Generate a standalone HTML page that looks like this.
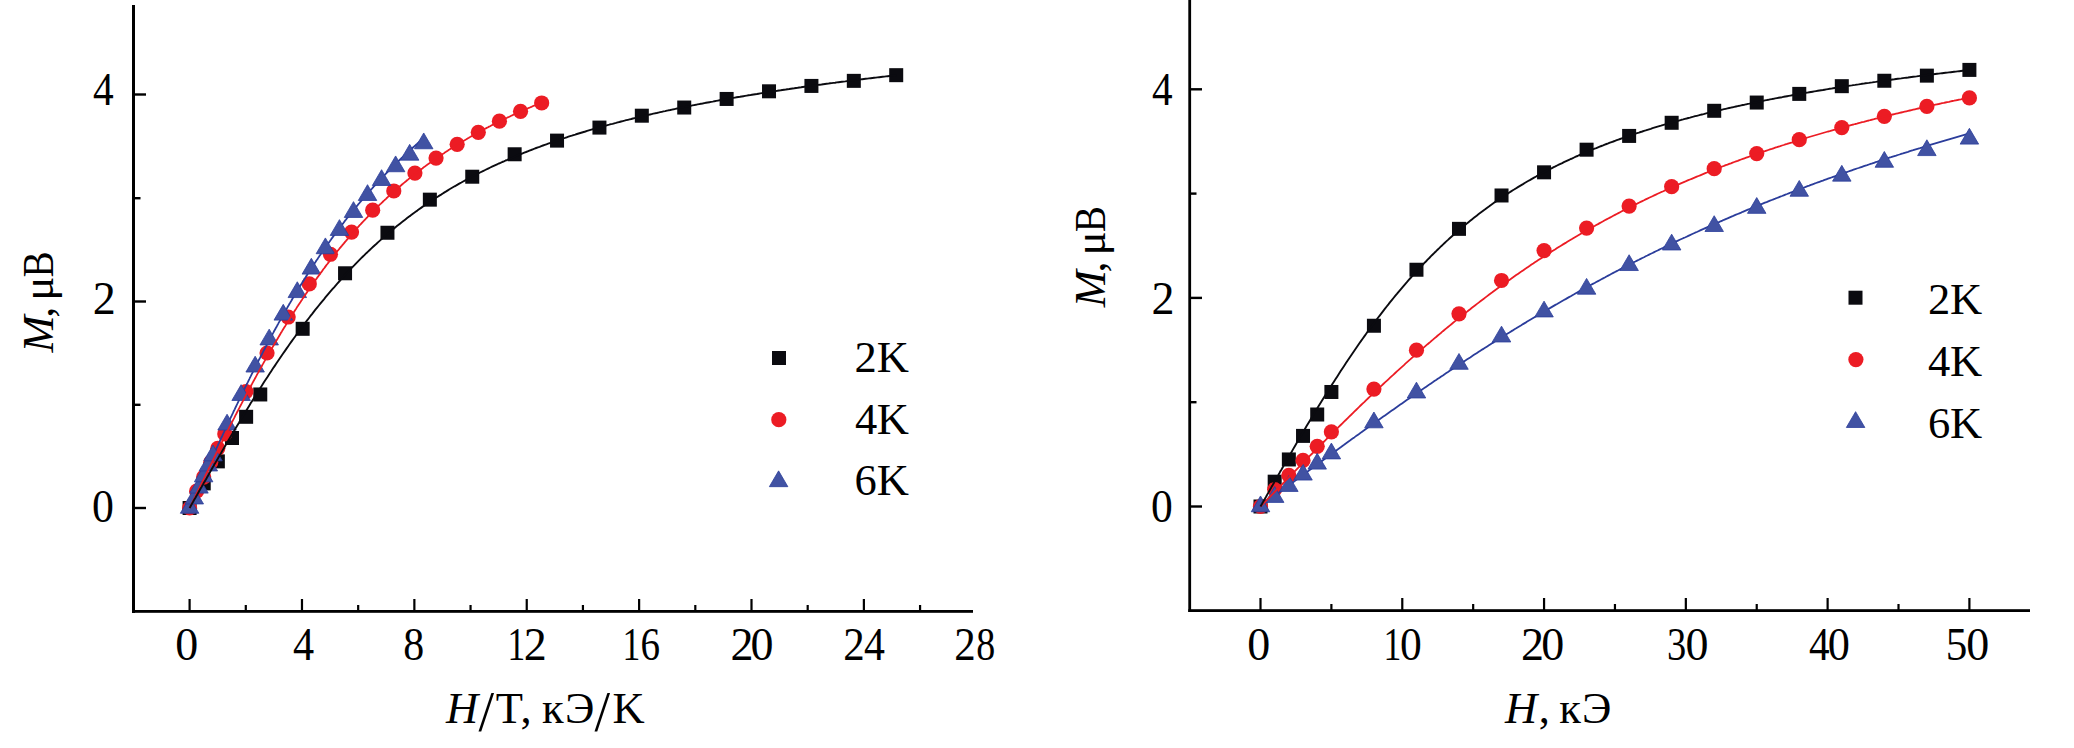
<!DOCTYPE html>
<html><head><meta charset="utf-8"><title>M vs H</title>
<style>html,body{margin:0;padding:0;background:#fff;}svg{display:block;}</style></head>
<body><svg width="2074" height="748" viewBox="0 0 2074 748">
<rect width="2074" height="748" fill="#fff"/>
<rect x="132" y="5" width="3" height="608" fill="#000"/>
<rect x="132" y="610" width="841" height="2.8" fill="#000"/>
<rect x="188.50" y="599" width="2.2" height="12" fill="#000"/>
<rect x="244.69" y="605" width="2.2" height="6" fill="#000"/>
<rect x="300.88" y="599" width="2.2" height="12" fill="#000"/>
<rect x="357.07" y="605" width="2.2" height="6" fill="#000"/>
<rect x="413.26" y="599" width="2.2" height="12" fill="#000"/>
<rect x="469.45" y="605" width="2.2" height="6" fill="#000"/>
<rect x="525.64" y="599" width="2.2" height="12" fill="#000"/>
<rect x="581.83" y="605" width="2.2" height="6" fill="#000"/>
<rect x="638.02" y="599" width="2.2" height="12" fill="#000"/>
<rect x="694.21" y="605" width="2.2" height="6" fill="#000"/>
<rect x="750.40" y="599" width="2.2" height="12" fill="#000"/>
<rect x="806.59" y="605" width="2.2" height="6" fill="#000"/>
<rect x="862.78" y="599" width="2.2" height="12" fill="#000"/>
<rect x="918.97" y="605" width="2.2" height="6" fill="#000"/>
<rect x="134" y="93.30" width="12" height="2.4" fill="#000"/>
<rect x="134" y="197.00" width="6.5" height="2.4" fill="#000"/>
<rect x="134" y="300.30" width="12" height="2.4" fill="#000"/>
<rect x="134" y="403.60" width="6.5" height="2.4" fill="#000"/>
<rect x="134" y="506.80" width="12" height="2.4" fill="#000"/>
<rect x="1188.3" y="0" width="2.8" height="612" fill="#000"/>
<rect x="1188.3" y="609.2" width="841.7" height="2.8" fill="#000"/>
<rect x="1259.40" y="598" width="2.2" height="12" fill="#000"/>
<rect x="1330.29" y="604" width="2.2" height="6" fill="#000"/>
<rect x="1401.18" y="598" width="2.2" height="12" fill="#000"/>
<rect x="1472.07" y="604" width="2.2" height="6" fill="#000"/>
<rect x="1542.96" y="598" width="2.2" height="12" fill="#000"/>
<rect x="1613.85" y="604" width="2.2" height="6" fill="#000"/>
<rect x="1684.74" y="598" width="2.2" height="12" fill="#000"/>
<rect x="1755.63" y="604" width="2.2" height="6" fill="#000"/>
<rect x="1826.52" y="598" width="2.2" height="12" fill="#000"/>
<rect x="1897.41" y="604" width="2.2" height="6" fill="#000"/>
<rect x="1968.30" y="598" width="2.2" height="12" fill="#000"/>
<rect x="1190" y="88.10" width="12" height="2.4" fill="#000"/>
<rect x="1190" y="192.40" width="6.5" height="2.4" fill="#000"/>
<rect x="1190" y="296.70" width="12" height="2.4" fill="#000"/>
<rect x="1190" y="401.00" width="6.5" height="2.4" fill="#000"/>
<rect x="1190" y="505.30" width="12" height="2.4" fill="#000"/>
<rect x="182.60" y="501.00" width="14.0" height="14.0" fill="#0b0b10"/>
<rect x="196.73" y="476.39" width="14.0" height="14.0" fill="#0b0b10"/>
<rect x="210.86" y="454.37" width="14.0" height="14.0" fill="#0b0b10"/>
<rect x="225.00" y="431.00" width="14.0" height="14.0" fill="#0b0b10"/>
<rect x="239.13" y="409.80" width="14.0" height="14.0" fill="#0b0b10"/>
<rect x="253.26" y="387.47" width="14.0" height="14.0" fill="#0b0b10"/>
<rect x="295.66" y="321.81" width="14.0" height="14.0" fill="#0b0b10"/>
<rect x="338.06" y="266.28" width="14.0" height="14.0" fill="#0b0b10"/>
<rect x="380.45" y="225.75" width="14.0" height="14.0" fill="#0b0b10"/>
<rect x="422.85" y="192.66" width="14.0" height="14.0" fill="#0b0b10"/>
<rect x="465.25" y="169.71" width="14.0" height="14.0" fill="#0b0b10"/>
<rect x="507.64" y="147.27" width="14.0" height="14.0" fill="#0b0b10"/>
<rect x="550.04" y="133.62" width="14.0" height="14.0" fill="#0b0b10"/>
<rect x="592.44" y="120.59" width="14.0" height="14.0" fill="#0b0b10"/>
<rect x="634.83" y="108.70" width="14.0" height="14.0" fill="#0b0b10"/>
<rect x="677.23" y="100.53" width="14.0" height="14.0" fill="#0b0b10"/>
<rect x="719.63" y="91.95" width="14.0" height="14.0" fill="#0b0b10"/>
<rect x="762.02" y="84.30" width="14.0" height="14.0" fill="#0b0b10"/>
<rect x="804.42" y="78.92" width="14.0" height="14.0" fill="#0b0b10"/>
<rect x="846.82" y="73.85" width="14.0" height="14.0" fill="#0b0b10"/>
<rect x="889.21" y="68.17" width="14.0" height="14.0" fill="#0b0b10"/>
<circle cx="189.60" cy="508.00" r="7.6" fill="#ec1c24"/>
<circle cx="196.64" cy="491.15" r="7.6" fill="#ec1c24"/>
<circle cx="203.68" cy="477.08" r="7.6" fill="#ec1c24"/>
<circle cx="210.72" cy="462.30" r="7.6" fill="#ec1c24"/>
<circle cx="217.77" cy="448.34" r="7.6" fill="#ec1c24"/>
<circle cx="224.81" cy="433.97" r="7.6" fill="#ec1c24"/>
<circle cx="245.93" cy="391.57" r="7.6" fill="#ec1c24"/>
<circle cx="267.05" cy="353.00" r="7.6" fill="#ec1c24"/>
<circle cx="288.18" cy="317.02" r="7.6" fill="#ec1c24"/>
<circle cx="309.30" cy="283.93" r="7.6" fill="#ec1c24"/>
<circle cx="330.43" cy="254.26" r="7.6" fill="#ec1c24"/>
<circle cx="351.55" cy="232.03" r="7.6" fill="#ec1c24"/>
<circle cx="372.68" cy="210.21" r="7.6" fill="#ec1c24"/>
<circle cx="393.80" cy="190.98" r="7.6" fill="#ec1c24"/>
<circle cx="414.92" cy="173.09" r="7.6" fill="#ec1c24"/>
<circle cx="436.05" cy="158.09" r="7.6" fill="#ec1c24"/>
<circle cx="457.17" cy="144.34" r="7.6" fill="#ec1c24"/>
<circle cx="478.30" cy="132.35" r="7.6" fill="#ec1c24"/>
<circle cx="499.42" cy="121.18" r="7.6" fill="#ec1c24"/>
<circle cx="520.54" cy="111.36" r="7.6" fill="#ec1c24"/>
<circle cx="541.67" cy="102.98" r="7.6" fill="#ec1c24"/>
<polyline points="189.6,508.0 189.8,507.5 190.1,507.0 190.3,506.4 190.5,505.9 190.8,505.4 191.0,504.9 191.2,504.3 191.5,503.8 191.7,503.3 191.9,502.8 192.2,502.2 192.4,501.7 192.6,501.2 192.9,500.7 193.1,500.2 193.3,499.6 193.6,499.1 193.8,498.6 194.0,498.1 194.3,497.5 194.5,497.0 194.8,496.5 195.0,496.0 195.2,495.5 195.5,494.9 195.7,494.4 195.9,493.9 196.2,493.4 196.4,492.8 196.6,492.3 196.9,491.8 197.1,491.3 197.3,490.8 197.6,490.2 197.8,489.7 198.0,489.2 198.3,488.7 198.5,488.1 198.7,487.6 199.0,487.1 199.2,486.6 199.8,485.3 200.3,484.1 200.9,482.8 201.5,481.6 202.0,480.3 202.6,479.1 203.1,477.8 203.7,476.6 204.3,475.3 204.8,474.1 205.4,472.8 206.0,471.6 206.5,470.3 207.1,469.1 207.6,467.8 208.2,466.6 208.8,465.3 209.3,464.1 209.9,462.9 210.5,461.6 211.0,460.4 211.6,459.1 212.1,457.9 212.7,456.7 213.3,455.4 213.8,454.2 214.4,453.0 215.0,451.7 215.5,450.5 216.1,449.3 216.6,448.0 217.2,446.8 217.8,445.6 218.3,444.3 218.9,443.1 219.5,441.9 220.0,440.7 220.6,439.4 221.1,438.2 221.7,437.0 222.3,435.8 222.8,434.6 223.4,433.4 224.0,432.1 224.5,430.9 225.1,429.7 225.6,428.5 226.2,427.3 226.8,426.1 227.3,424.9 227.9,423.7 228.5,422.5 229.0,421.3 229.6,420.1 230.1,418.9 230.7,417.7 231.3,416.5 231.8,415.3 232.4,414.1 233.0,412.9 233.5,411.7 234.1,410.5 234.7,409.3 235.2,408.2 235.8,407.0 236.3,405.8 236.9,404.6 237.5,403.4 238.0,402.3 238.6,401.1 239.2,399.9 239.7,398.7 240.3,397.6 240.8,396.4 241.4,395.2 242.0,394.1 242.5,392.9 243.1,391.8 243.7,390.6 244.2,389.4 244.8,388.3 245.3,387.1 245.9,386.0 246.5,384.8 247.0,383.7 247.6,382.6 248.2,381.4 248.7,380.3 249.3,379.1 249.8,378.0 250.4,376.9 251.0,375.7 251.5,374.6 252.1,373.5 252.7,372.4 253.2,371.2 253.8,370.1 254.3,369.0 254.9,367.9 255.5,366.8 256.0,365.7 256.6,364.6 257.2,363.4 257.7,362.3 258.3,361.2 258.8,360.1 259.4,359.0 260.0,357.9 260.5,356.9 261.1,355.8 261.7,354.7 262.2,353.6 262.8,352.5 263.3,351.4 263.9,350.3 264.5,349.3 265.0,348.2 265.6,347.1 266.2,346.0 266.7,345.0 267.3,343.9 267.9,342.9 268.4,341.8 269.0,340.7 269.5,339.7 270.1,338.6 270.7,337.6 271.2,336.5 271.8,335.5 272.4,334.4 272.9,333.4 273.5,332.4 274.0,331.3 274.6,330.3 275.2,329.3 275.7,328.2 276.3,327.2 276.9,326.2 277.4,325.2 278.0,324.1 278.5,323.1 279.1,322.1 279.7,321.1 280.2,320.1 280.8,319.1 281.4,318.1 281.9,317.1 282.5,316.1 283.0,315.1 283.6,314.1 284.2,313.1 284.7,312.1 285.3,311.1 285.9,310.1 286.4,309.2 287.0,308.2 287.5,307.2 288.1,306.2 288.7,305.3 289.2,304.3 289.8,303.3 290.4,302.4 290.9,301.4 291.5,300.5 292.0,299.5 292.6,298.5 293.2,297.6 293.7,296.6 294.3,295.7 294.9,294.8 295.4,293.8 296.0,292.9 296.5,291.9 297.1,291.0 297.7,290.1 298.2,289.2 298.8,288.2 299.4,287.3 299.9,286.4 300.5,285.5 301.1,284.6 301.6,283.6 302.2,282.7 302.7,281.8 303.3,280.9 303.9,280.0 304.4,279.1 305.0,278.2 305.6,277.3 306.1,276.4 306.7,275.6 307.2,274.7 307.8,273.8 308.4,272.9 308.9,272.0 309.5,271.2 310.1,270.3 310.6,269.4 311.2,268.5 311.7,267.7 312.3,266.8 312.9,266.0 313.4,265.1 314.0,264.2 314.6,263.4 315.1,262.5 315.7,261.7 316.2,260.8 316.8,260.0 317.4,259.2 317.9,258.3 318.5,257.5 319.1,256.6 319.6,255.8 320.2,255.0 320.7,254.2 321.3,253.3 321.9,252.5 322.4,251.7 323.0,250.9 323.6,250.1 324.1,249.3 324.7,248.4 325.2,247.6 325.8,246.8 326.4,246.0 326.9,245.2 327.5,244.4 328.1,243.6 328.6,242.9 329.2,242.1 329.8,241.3 330.3,240.5 330.9,239.7 331.4,238.9 332.0,238.2 332.6,237.4 333.1,236.6 333.7,235.8 334.3,235.1 334.8,234.3 335.4,233.5 335.9,232.8 336.5,232.0 337.1,231.3 337.6,230.5 338.2,229.8 338.8,229.0 339.3,228.3 339.9,227.5 340.4,226.8 341.0,226.0 341.6,225.3 342.1,224.5 342.7,223.8 343.3,223.1 343.8,222.4 344.4,221.6 344.9,220.9 345.5,220.2 346.1,219.5 346.6,218.7 347.2,218.0 347.8,217.3 348.3,216.6 348.9,215.9 349.4,215.2 350.0,214.5 350.6,213.8 351.1,213.1 351.7,212.4 352.3,211.7 352.8,211.0 353.4,210.3 353.9,209.6 354.5,208.9 355.1,208.2 355.6,207.5 356.2,206.9 356.8,206.2 357.3,205.5 357.9,204.8 358.4,204.2 359.0,203.5 359.6,202.8 360.1,202.1 360.7,201.5 361.3,200.8 361.8,200.2 362.4,199.5 363.0,198.8 363.5,198.2 364.1,197.5 364.6,196.9 365.2,196.2 365.8,195.6 366.3,194.9 366.9,194.3 367.5,193.6 368.0,193.0 368.6,192.4 369.1,191.7 369.7,191.1 370.3,190.5 370.8,189.8 371.4,189.2 372.0,188.6 372.5,188.0 373.1,187.3 373.6,186.7 374.2,186.1 374.8,185.5 375.3,184.9 375.9,184.3 376.5,183.6 377.0,183.0 377.6,182.4 378.1,181.8 378.7,181.2 379.3,180.6 379.8,180.0 380.4,179.4 381.0,178.8 381.5,178.2 382.1,177.6 382.6,177.0 383.2,176.5 383.8,175.9 384.3,175.3 384.9,174.7 385.5,174.1 386.0,173.5 386.6,173.0 387.1,172.4 387.7,171.8 388.3,171.2 388.8,170.6 389.4,170.1 390.0,169.5 390.5,168.9 391.1,168.4 391.6,167.8 392.2,167.2 392.8,166.7 393.3,166.1 393.9,165.6 394.5,165.0 395.0,164.5 395.6,163.9 396.2,163.4 396.7,162.8 397.3,162.3 397.8,161.7 398.4,161.2 399.0,160.6 399.5,160.1 400.1,159.5 400.7,159.0 401.2,158.5 401.8,157.9 402.3,157.4 402.9,156.9 403.5,156.3 404.0,155.8 404.6,155.3 405.2,154.7 405.7,154.2 406.3,153.7 406.8,153.2 407.4,152.7 408.0,152.1 408.5,151.6 409.1,151.1 409.7,150.6 410.2,150.1 410.8,149.6 411.3,149.1 411.9,148.5 412.5,148.0 413.0,147.5 413.6,147.0 414.2,146.5 414.7,146.0 415.3,145.5 415.8,145.0 416.4,144.5 417.0,144.0 417.5,143.5 418.1,143.0 418.7,142.5 419.2,142.0 419.8,141.6 420.3,141.1 420.9,140.6 421.5,140.1 422.0,139.6 422.6,139.1 423.2,138.6 423.7,138.2" fill="none" stroke="#2b3d9b" stroke-width="1.8" stroke-linejoin="round"/>
<path d="M189.60 497.47L198.85 513.27L180.35 513.27Z" fill="#4152a3" stroke="#2b3d9b" stroke-width="0.8" stroke-linejoin="miter"/>
<path d="M194.28 488.16L203.53 503.96L185.03 503.96Z" fill="#4152a3" stroke="#2b3d9b" stroke-width="0.8" stroke-linejoin="miter"/>
<path d="M198.97 477.30L208.22 493.10L189.72 493.10Z" fill="#4152a3" stroke="#2b3d9b" stroke-width="0.8" stroke-linejoin="miter"/>
<path d="M203.65 466.03L212.90 481.83L194.40 481.83Z" fill="#4152a3" stroke="#2b3d9b" stroke-width="0.8" stroke-linejoin="miter"/>
<path d="M208.33 455.18L217.58 470.98L199.08 470.98Z" fill="#4152a3" stroke="#2b3d9b" stroke-width="0.8" stroke-linejoin="miter"/>
<path d="M213.01 445.04L222.26 460.84L203.76 460.84Z" fill="#4152a3" stroke="#2b3d9b" stroke-width="0.8" stroke-linejoin="miter"/>
<path d="M227.06 414.23L236.31 430.03L217.81 430.03Z" fill="#4152a3" stroke="#2b3d9b" stroke-width="0.8" stroke-linejoin="miter"/>
<path d="M241.11 384.66L250.36 400.46L231.86 400.46Z" fill="#4152a3" stroke="#2b3d9b" stroke-width="0.8" stroke-linejoin="miter"/>
<path d="M255.16 356.22L264.40 372.02L245.91 372.02Z" fill="#4152a3" stroke="#2b3d9b" stroke-width="0.8" stroke-linejoin="miter"/>
<path d="M269.20 329.13L278.45 344.93L259.95 344.93Z" fill="#4152a3" stroke="#2b3d9b" stroke-width="0.8" stroke-linejoin="miter"/>
<path d="M283.25 304.32L292.50 320.12L274.00 320.12Z" fill="#4152a3" stroke="#2b3d9b" stroke-width="0.8" stroke-linejoin="miter"/>
<path d="M297.30 281.77L306.55 297.57L288.05 297.57Z" fill="#4152a3" stroke="#2b3d9b" stroke-width="0.8" stroke-linejoin="miter"/>
<path d="M311.34 258.30L320.59 274.10L302.09 274.10Z" fill="#4152a3" stroke="#2b3d9b" stroke-width="0.8" stroke-linejoin="miter"/>
<path d="M325.39 237.93L334.64 253.73L316.14 253.73Z" fill="#4152a3" stroke="#2b3d9b" stroke-width="0.8" stroke-linejoin="miter"/>
<path d="M339.44 219.63L348.69 235.43L330.19 235.43Z" fill="#4152a3" stroke="#2b3d9b" stroke-width="0.8" stroke-linejoin="miter"/>
<path d="M353.49 201.64L362.74 217.44L344.24 217.44Z" fill="#4152a3" stroke="#2b3d9b" stroke-width="0.8" stroke-linejoin="miter"/>
<path d="M367.53 184.68L376.78 200.48L358.28 200.48Z" fill="#4152a3" stroke="#2b3d9b" stroke-width="0.8" stroke-linejoin="miter"/>
<path d="M381.58 169.69L390.83 185.49L372.33 185.49Z" fill="#4152a3" stroke="#2b3d9b" stroke-width="0.8" stroke-linejoin="miter"/>
<path d="M395.63 155.94L404.88 171.74L386.38 171.74Z" fill="#4152a3" stroke="#2b3d9b" stroke-width="0.8" stroke-linejoin="miter"/>
<path d="M409.68 144.36L418.93 160.16L400.43 160.16Z" fill="#4152a3" stroke="#2b3d9b" stroke-width="0.8" stroke-linejoin="miter"/>
<path d="M423.73 132.98L432.98 148.78L414.48 148.78Z" fill="#4152a3" stroke="#2b3d9b" stroke-width="0.8" stroke-linejoin="miter"/>
<polyline points="189.6,508.0 190.0,507.3 190.3,506.6 190.7,505.8 191.0,505.1 191.4,504.4 191.7,503.7 192.1,502.9 192.4,502.2 192.8,501.5 193.1,500.8 193.5,500.0 193.8,499.3 194.2,498.6 194.5,497.9 194.9,497.1 195.2,496.4 195.6,495.7 195.9,495.0 196.3,494.2 196.6,493.5 197.0,492.8 197.3,492.1 197.7,491.3 198.0,490.6 198.4,489.9 198.8,489.2 199.1,488.4 199.5,487.7 199.8,487.0 200.2,486.3 200.5,485.6 200.9,484.8 201.2,484.1 201.6,483.4 201.9,482.7 202.3,481.9 202.6,481.2 203.0,480.5 203.3,479.8 203.7,479.1 204.0,478.3 204.9,476.6 205.7,474.9 206.6,473.2 207.4,471.4 208.3,469.7 209.1,468.0 210.0,466.3 210.8,464.5 211.7,462.8 212.5,461.1 213.3,459.4 214.2,457.7 215.0,456.0 215.9,454.2 216.7,452.5 217.6,450.8 218.4,449.1 219.3,447.4 220.1,445.7 221.0,444.0 221.8,442.3 222.7,440.6 223.5,439.0 224.3,437.3 225.2,435.6 226.0,433.9 226.9,432.2 227.7,430.5 228.6,428.9 229.4,427.2 230.3,425.5 231.1,423.9 232.0,422.2 232.8,420.6 233.7,418.9 234.5,417.3 235.3,415.6 236.2,414.0 237.0,412.3 237.9,410.7 238.7,409.1 239.6,407.4 240.4,405.8 241.3,404.2 242.1,402.6 243.0,400.9 243.8,399.3 244.7,397.7 245.5,396.1 246.3,394.5 247.2,392.9 248.0,391.3 248.9,389.7 249.7,388.2 250.6,386.6 251.4,385.0 252.3,383.4 253.1,381.9 254.0,380.3 254.8,378.8 255.7,377.2 256.5,375.7 257.3,374.1 258.2,372.6 259.0,371.0 259.9,369.5 260.7,368.0 261.6,366.5 262.4,364.9 263.3,363.4 264.1,361.9 265.0,360.4 265.8,358.9 266.7,357.4 267.5,356.0 268.3,354.5 269.2,353.0 270.0,351.5 270.9,350.1 271.7,348.6 272.6,347.1 273.4,345.7 274.3,344.2 275.1,342.8 276.0,341.4 276.8,339.9 277.7,338.5 278.5,337.1 279.3,335.7 280.2,334.2 281.0,332.8 281.9,331.4 282.7,330.0 283.6,328.6 284.4,327.3 285.3,325.9 286.1,324.5 287.0,323.1 287.8,321.8 288.7,320.4 289.5,319.1 290.3,317.7 291.2,316.4 292.0,315.0 292.9,313.7 293.7,312.4 294.6,311.1 295.4,309.7 296.3,308.4 297.1,307.1 298.0,305.8 298.8,304.5 299.7,303.2 300.5,302.0 301.3,300.7 302.2,299.4 303.0,298.1 303.9,296.9 304.7,295.6 305.6,294.4 306.4,293.1 307.3,291.9 308.1,290.6 309.0,289.4 309.8,288.2 310.7,287.0 311.5,285.8 312.3,284.5 313.2,283.3 314.0,282.1 314.9,281.0 315.7,279.8 316.6,278.6 317.4,277.4 318.3,276.2 319.1,275.1 320.0,273.9 320.8,272.8 321.7,271.6 322.5,270.5 323.3,269.3 324.2,268.2 325.0,267.1 325.9,265.9 326.7,264.8 327.6,263.7 328.4,262.6 329.3,261.5 330.1,260.4 331.0,259.3 331.8,258.2 332.7,257.2 333.5,256.1 334.3,255.0 335.2,253.9 336.0,252.9 336.9,251.8 337.7,250.8 338.6,249.7 339.4,248.7 340.3,247.7 341.1,246.6 342.0,245.6 342.8,244.6 343.7,243.6 344.5,242.6 345.3,241.6 346.2,240.6 347.0,239.6 347.9,238.6 348.7,237.6 349.6,236.6 350.4,235.6 351.3,234.7 352.1,233.7 353.0,232.7 353.8,231.8 354.7,230.8 355.5,229.9 356.4,228.9 357.2,228.0 358.0,227.1 358.9,226.1 359.7,225.2 360.6,224.3 361.4,223.4 362.3,222.5 363.1,221.6 364.0,220.7 364.8,219.8 365.7,218.9 366.5,218.0 367.4,217.1 368.2,216.2 369.0,215.4 369.9,214.5 370.7,213.6 371.6,212.8 372.4,211.9 373.3,211.1 374.1,210.2 375.0,209.4 375.8,208.5 376.7,207.7 377.5,206.9 378.4,206.0 379.2,205.2 380.0,204.4 380.9,203.6 381.7,202.8 382.6,202.0 383.4,201.2 384.3,200.4 385.1,199.6 386.0,198.8 386.8,198.0 387.7,197.2 388.5,196.4 389.4,195.7 390.2,194.9 391.0,194.1 391.9,193.4 392.7,192.6 393.6,191.9 394.4,191.1 395.3,190.4 396.1,189.6 397.0,188.9 397.8,188.2 398.7,187.4 399.5,186.7 400.4,186.0 401.2,185.3 402.0,184.5 402.9,183.8 403.7,183.1 404.6,182.4 405.4,181.7 406.3,181.0 407.1,180.3 408.0,179.6 408.8,178.9 409.7,178.2 410.5,177.6 411.4,176.9 412.2,176.2 413.0,175.5 413.9,174.9 414.7,174.2 415.6,173.5 416.4,172.9 417.3,172.2 418.1,171.6 419.0,170.9 419.8,170.3 420.7,169.6 421.5,169.0 422.4,168.4 423.2,167.7 424.0,167.1 424.9,166.5 425.7,165.9 426.6,165.2 427.4,164.6 428.3,164.0 429.1,163.4 430.0,162.8 430.8,162.2 431.7,161.6 432.5,161.0 433.4,160.4 434.2,159.8 435.0,159.2 435.9,158.6 436.7,158.0 437.6,157.4 438.4,156.9 439.3,156.3 440.1,155.7 441.0,155.1 441.8,154.6 442.7,154.0 443.5,153.5 444.4,152.9 445.2,152.3 446.0,151.8 446.9,151.2 447.7,150.7 448.6,150.1 449.4,149.6 450.3,149.0 451.1,148.5 452.0,148.0 452.8,147.4 453.7,146.9 454.5,146.4 455.4,145.8 456.2,145.3 457.0,144.8 457.9,144.3 458.7,143.8 459.6,143.2 460.4,142.7 461.3,142.2 462.1,141.7 463.0,141.2 463.8,140.7 464.7,140.2 465.5,139.7 466.4,139.2 467.2,138.7 468.0,138.2 468.9,137.7 469.7,137.2 470.6,136.8 471.4,136.3 472.3,135.8 473.1,135.3 474.0,134.8 474.8,134.4 475.7,133.9 476.5,133.4 477.4,133.0 478.2,132.5 479.0,132.0 479.9,131.6 480.7,131.1 481.6,130.6 482.4,130.2 483.3,129.7 484.1,129.3 485.0,128.8 485.8,128.4 486.7,127.9 487.5,127.5 488.4,127.1 489.2,126.6 490.0,126.2 490.9,125.7 491.7,125.3 492.6,124.9 493.4,124.4 494.3,124.0 495.1,123.6 496.0,123.2 496.8,122.7 497.7,122.3 498.5,121.9 499.4,121.5 500.2,121.1 501.1,120.6 501.9,120.2 502.7,119.8 503.6,119.4 504.4,119.0 505.3,118.6 506.1,118.2 507.0,117.8 507.8,117.4 508.7,117.0 509.5,116.6 510.4,116.2 511.2,115.8 512.1,115.4 512.9,115.0 513.7,114.6 514.6,114.2 515.4,113.8 516.3,113.4 517.1,113.1 518.0,112.7 518.8,112.3 519.7,111.9 520.5,111.5 521.4,111.2 522.2,110.8 523.1,110.4 523.9,110.0 524.7,109.7 525.6,109.3 526.4,108.9 527.3,108.6 528.1,108.2 529.0,107.8 529.8,107.5 530.7,107.1 531.5,106.8 532.4,106.4 533.2,106.0 534.1,105.7 534.9,105.3 535.7,105.0 536.6,104.6 537.4,104.3 538.3,103.9 539.1,103.6 540.0,103.2 540.8,102.9 541.7,102.5" fill="none" stroke="#ec1c24" stroke-width="1.8" stroke-linejoin="round"/>
<polyline points="189.6,508.0 190.3,506.8 191.0,505.5 191.7,504.3 192.4,503.0 193.1,501.8 193.8,500.5 194.5,499.3 195.3,498.0 196.0,496.8 196.7,495.6 197.4,494.3 198.1,493.1 198.8,491.8 199.5,490.6 200.2,489.3 200.9,488.1 201.6,486.9 202.3,485.6 203.0,484.4 203.7,483.1 204.4,481.9 205.1,480.7 205.9,479.4 206.6,478.2 207.3,476.9 208.0,475.7 208.7,474.5 209.4,473.2 210.1,472.0 210.8,470.8 211.5,469.5 212.2,468.3 212.9,467.1 213.6,465.9 214.3,464.6 215.0,463.4 215.7,462.2 216.5,461.0 217.2,459.7 217.9,458.5 218.6,457.3 220.3,454.4 222.0,451.4 223.7,448.5 225.4,445.6 227.1,442.7 228.8,439.8 230.5,436.9 232.2,434.1 233.9,431.2 235.6,428.3 237.3,425.5 239.0,422.7 240.6,419.8 242.3,417.0 244.0,414.2 245.7,411.4 247.4,408.7 249.1,405.9 250.8,403.1 252.5,400.4 254.2,397.7 255.9,395.0 257.6,392.3 259.3,389.6 261.0,386.9 262.7,384.2 264.4,381.6 266.1,379.0 267.8,376.4 269.5,373.8 271.2,371.2 272.9,368.6 274.6,366.1 276.3,363.5 278.0,361.0 279.7,358.5 281.4,356.0 283.1,353.5 284.8,351.1 286.5,348.6 288.2,346.2 289.9,343.8 291.6,341.4 293.3,339.0 295.0,336.7 296.7,334.3 298.4,332.0 300.1,329.7 301.8,327.4 303.5,325.2 305.2,322.9 306.9,320.7 308.6,318.5 310.3,316.2 312.0,314.1 313.7,311.9 315.4,309.7 317.1,307.6 318.8,305.5 320.5,303.4 322.2,301.3 323.9,299.3 325.6,297.2 327.3,295.2 329.0,293.2 330.7,291.2 332.4,289.2 334.1,287.3 335.8,285.3 337.5,283.4 339.2,281.5 340.9,279.6 342.6,277.7 344.2,275.9 345.9,274.0 347.6,272.2 349.3,270.4 351.0,268.6 352.7,266.8 354.4,265.1 356.1,263.3 357.8,261.6 359.5,259.9 361.2,258.2 362.9,256.5 364.6,254.9 366.3,253.2 368.0,251.6 369.7,250.0 371.4,248.4 373.1,246.8 374.8,245.2 376.5,243.7 378.2,242.1 379.9,240.6 381.6,239.1 383.3,237.6 385.0,236.1 386.7,234.7 388.4,233.2 390.1,231.8 391.8,230.3 393.5,228.9 395.2,227.5 396.9,226.1 398.6,224.8 400.3,223.4 402.0,222.1 403.7,220.7 405.4,219.4 407.1,218.1 408.8,216.8 410.5,215.6 412.2,214.3 413.9,213.0 415.6,211.8 417.3,210.6 419.0,209.3 420.7,208.1 422.4,206.9 424.1,205.8 425.8,204.6 427.5,203.4 429.2,202.3 430.9,201.2 432.6,200.0 434.3,198.9 436.0,197.8 437.7,196.7 439.4,195.6 441.1,194.6 442.8,193.5 444.5,192.4 446.2,191.4 447.8,190.4 449.5,189.3 451.2,188.3 452.9,187.3 454.6,186.3 456.3,185.4 458.0,184.4 459.7,183.4 461.4,182.5 463.1,181.5 464.8,180.6 466.5,179.7 468.2,178.7 469.9,177.8 471.6,176.9 473.3,176.0 475.0,175.1 476.7,174.3 478.4,173.4 480.1,172.5 481.8,171.7 483.5,170.8 485.2,170.0 486.9,169.2 488.6,168.3 490.3,167.5 492.0,166.7 493.7,165.9 495.4,165.1 497.1,164.3 498.8,163.5 500.5,162.8 502.2,162.0 503.9,161.3 505.6,160.5 507.3,159.8 509.0,159.0 510.7,158.3 512.4,157.6 514.1,156.8 515.8,156.1 517.5,155.4 519.2,154.7 520.9,154.0 522.6,153.3 524.3,152.6 526.0,152.0 527.7,151.3 529.4,150.6 531.1,150.0 532.8,149.3 534.5,148.7 536.2,148.0 537.9,147.4 539.6,146.8 541.3,146.1 543.0,145.5 544.7,144.9 546.4,144.3 548.1,143.7 549.8,143.1 551.4,142.5 553.1,141.9 554.8,141.3 556.5,140.7 558.2,140.1 559.9,139.5 561.6,139.0 563.3,138.4 565.0,137.9 566.7,137.3 568.4,136.7 570.1,136.2 571.8,135.7 573.5,135.1 575.2,134.6 576.9,134.0 578.6,133.5 580.3,133.0 582.0,132.5 583.7,132.0 585.4,131.5 587.1,130.9 588.8,130.4 590.5,129.9 592.2,129.4 593.9,129.0 595.6,128.5 597.3,128.0 599.0,127.5 600.7,127.0 602.4,126.5 604.1,126.1 605.8,125.6 607.5,125.1 609.2,124.7 610.9,124.2 612.6,123.8 614.3,123.3 616.0,122.9 617.7,122.4 619.4,122.0 621.1,121.5 622.8,121.1 624.5,120.7 626.2,120.2 627.9,119.8 629.6,119.4 631.3,119.0 633.0,118.5 634.7,118.1 636.4,117.7 638.1,117.3 639.8,116.9 641.5,116.5 643.2,116.1 644.9,115.7 646.6,115.3 648.3,114.9 650.0,114.5 651.7,114.1 653.3,113.7 655.0,113.3 656.7,113.0 658.4,112.6 660.1,112.2 661.8,111.8 663.5,111.4 665.2,111.1 666.9,110.7 668.6,110.3 670.3,110.0 672.0,109.6 673.7,109.3 675.4,108.9 677.1,108.5 678.8,108.2 680.5,107.8 682.2,107.5 683.9,107.1 685.6,106.8 687.3,106.5 689.0,106.1 690.7,105.8 692.4,105.4 694.1,105.1 695.8,104.8 697.5,104.4 699.2,104.1 700.9,103.8 702.6,103.5 704.3,103.1 706.0,102.8 707.7,102.5 709.4,102.2 711.1,101.9 712.8,101.6 714.5,101.2 716.2,100.9 717.9,100.6 719.6,100.3 721.3,100.0 723.0,99.7 724.7,99.4 726.4,99.1 728.1,98.8 729.8,98.5 731.5,98.2 733.2,97.9 734.9,97.6 736.6,97.3 738.3,97.0 740.0,96.8 741.7,96.5 743.4,96.2 745.1,95.9 746.8,95.6 748.5,95.3 750.2,95.1 751.9,94.8 753.6,94.5 755.3,94.2 756.9,94.0 758.6,93.7 760.3,93.4 762.0,93.1 763.7,92.9 765.4,92.6 767.1,92.3 768.8,92.1 770.5,91.8 772.2,91.5 773.9,91.3 775.6,91.0 777.3,90.8 779.0,90.5 780.7,90.3 782.4,90.0 784.1,89.7 785.8,89.5 787.5,89.2 789.2,89.0 790.9,88.7 792.6,88.5 794.3,88.3 796.0,88.0 797.7,87.8 799.4,87.5 801.1,87.3 802.8,87.0 804.5,86.8 806.2,86.6 807.9,86.3 809.6,86.1 811.3,85.9 813.0,85.6 814.7,85.4 816.4,85.2 818.1,84.9 819.8,84.7 821.5,84.5 823.2,84.2 824.9,84.0 826.6,83.8 828.3,83.6 830.0,83.3 831.7,83.1 833.4,82.9 835.1,82.7 836.8,82.4 838.5,82.2 840.2,82.0 841.9,81.8 843.6,81.6 845.3,81.4 847.0,81.1 848.7,80.9 850.4,80.7 852.1,80.5 853.8,80.3 855.5,80.1 857.2,79.9 858.9,79.7 860.5,79.4 862.2,79.2 863.9,79.0 865.6,78.8 867.3,78.6 869.0,78.4 870.7,78.2 872.4,78.0 874.1,77.8 875.8,77.6 877.5,77.4 879.2,77.2 880.9,77.0 882.6,76.8 884.3,76.6 886.0,76.4 887.7,76.2 889.4,76.0 891.1,75.8 892.8,75.6 894.5,75.4 896.2,75.3" fill="none" stroke="#0b0b10" stroke-width="1.9" stroke-linejoin="round"/>
<rect x="1253.50" y="499.50" width="14.0" height="14.0" fill="#0b0b10"/>
<rect x="1267.68" y="474.68" width="14.0" height="14.0" fill="#0b0b10"/>
<rect x="1281.86" y="452.46" width="14.0" height="14.0" fill="#0b0b10"/>
<rect x="1296.03" y="428.89" width="14.0" height="14.0" fill="#0b0b10"/>
<rect x="1310.21" y="407.51" width="14.0" height="14.0" fill="#0b0b10"/>
<rect x="1324.39" y="384.98" width="14.0" height="14.0" fill="#0b0b10"/>
<rect x="1366.92" y="318.75" width="14.0" height="14.0" fill="#0b0b10"/>
<rect x="1409.46" y="262.74" width="14.0" height="14.0" fill="#0b0b10"/>
<rect x="1451.99" y="221.85" width="14.0" height="14.0" fill="#0b0b10"/>
<rect x="1494.53" y="188.48" width="14.0" height="14.0" fill="#0b0b10"/>
<rect x="1537.06" y="165.32" width="14.0" height="14.0" fill="#0b0b10"/>
<rect x="1579.59" y="142.69" width="14.0" height="14.0" fill="#0b0b10"/>
<rect x="1622.13" y="128.92" width="14.0" height="14.0" fill="#0b0b10"/>
<rect x="1664.66" y="115.78" width="14.0" height="14.0" fill="#0b0b10"/>
<rect x="1707.20" y="103.79" width="14.0" height="14.0" fill="#0b0b10"/>
<rect x="1749.73" y="95.55" width="14.0" height="14.0" fill="#0b0b10"/>
<rect x="1792.26" y="86.89" width="14.0" height="14.0" fill="#0b0b10"/>
<rect x="1834.80" y="79.17" width="14.0" height="14.0" fill="#0b0b10"/>
<rect x="1877.33" y="73.75" width="14.0" height="14.0" fill="#0b0b10"/>
<rect x="1919.87" y="68.64" width="14.0" height="14.0" fill="#0b0b10"/>
<rect x="1962.40" y="62.90" width="14.0" height="14.0" fill="#0b0b10"/>
<circle cx="1260.50" cy="506.50" r="7.6" fill="#ec1c24"/>
<circle cx="1274.68" cy="489.50" r="7.6" fill="#ec1c24"/>
<circle cx="1288.86" cy="475.31" r="7.6" fill="#ec1c24"/>
<circle cx="1303.03" cy="460.40" r="7.6" fill="#ec1c24"/>
<circle cx="1317.21" cy="446.32" r="7.6" fill="#ec1c24"/>
<circle cx="1331.39" cy="431.82" r="7.6" fill="#ec1c24"/>
<circle cx="1373.92" cy="389.06" r="7.6" fill="#ec1c24"/>
<circle cx="1416.46" cy="350.15" r="7.6" fill="#ec1c24"/>
<circle cx="1458.99" cy="313.86" r="7.6" fill="#ec1c24"/>
<circle cx="1501.53" cy="280.48" r="7.6" fill="#ec1c24"/>
<circle cx="1544.06" cy="250.55" r="7.6" fill="#ec1c24"/>
<circle cx="1586.59" cy="228.12" r="7.6" fill="#ec1c24"/>
<circle cx="1629.13" cy="206.12" r="7.6" fill="#ec1c24"/>
<circle cx="1671.66" cy="186.72" r="7.6" fill="#ec1c24"/>
<circle cx="1714.20" cy="168.67" r="7.6" fill="#ec1c24"/>
<circle cx="1756.73" cy="153.55" r="7.6" fill="#ec1c24"/>
<circle cx="1799.26" cy="139.68" r="7.6" fill="#ec1c24"/>
<circle cx="1841.80" cy="127.58" r="7.6" fill="#ec1c24"/>
<circle cx="1884.33" cy="116.31" r="7.6" fill="#ec1c24"/>
<circle cx="1926.87" cy="106.41" r="7.6" fill="#ec1c24"/>
<circle cx="1969.40" cy="97.96" r="7.6" fill="#ec1c24"/>
<polyline points="1260.5,506.5 1261.2,506.0 1261.9,505.4 1262.6,504.9 1263.3,504.4 1264.0,503.9 1264.8,503.3 1265.5,502.8 1266.2,502.3 1266.9,501.8 1267.6,501.2 1268.3,500.7 1269.0,500.2 1269.7,499.6 1270.4,499.1 1271.1,498.6 1271.8,498.1 1272.6,497.5 1273.3,497.0 1274.0,496.5 1274.7,496.0 1275.4,495.4 1276.1,494.9 1276.8,494.4 1277.5,493.8 1278.2,493.3 1278.9,492.8 1279.6,492.3 1280.3,491.7 1281.1,491.2 1281.8,490.7 1282.5,490.2 1283.2,489.6 1283.9,489.1 1284.6,488.6 1285.3,488.1 1286.0,487.5 1286.7,487.0 1287.4,486.5 1288.1,485.9 1288.9,485.4 1289.6,484.9 1291.3,483.6 1293.0,482.4 1294.7,481.1 1296.4,479.8 1298.1,478.6 1299.8,477.3 1301.5,476.1 1303.2,474.8 1304.9,473.5 1306.6,472.3 1308.3,471.0 1310.0,469.8 1311.7,468.5 1313.4,467.2 1315.1,466.0 1316.8,464.7 1318.5,463.5 1320.2,462.2 1321.9,461.0 1323.6,459.7 1325.3,458.5 1327.0,457.2 1328.8,456.0 1330.5,454.7 1332.2,453.5 1333.9,452.2 1335.6,451.0 1337.3,449.7 1339.0,448.5 1340.7,447.3 1342.4,446.0 1344.1,444.8 1345.8,443.5 1347.5,442.3 1349.2,441.1 1350.9,439.8 1352.6,438.6 1354.3,437.4 1356.0,436.1 1357.7,434.9 1359.4,433.7 1361.1,432.4 1362.8,431.2 1364.5,430.0 1366.2,428.8 1367.9,427.5 1369.6,426.3 1371.3,425.1 1373.1,423.9 1374.8,422.7 1376.5,421.4 1378.2,420.2 1379.9,419.0 1381.6,417.8 1383.3,416.6 1385.0,415.4 1386.7,414.2 1388.4,413.0 1390.1,411.8 1391.8,410.6 1393.5,409.4 1395.2,408.2 1396.9,407.0 1398.6,405.8 1400.3,404.6 1402.0,403.4 1403.7,402.2 1405.4,401.0 1407.1,399.8 1408.8,398.7 1410.5,397.5 1412.2,396.3 1413.9,395.1 1415.6,393.9 1417.4,392.8 1419.1,391.6 1420.8,390.4 1422.5,389.2 1424.2,388.1 1425.9,386.9 1427.6,385.7 1429.3,384.6 1431.0,383.4 1432.7,382.3 1434.4,381.1 1436.1,380.0 1437.8,378.8 1439.5,377.7 1441.2,376.5 1442.9,375.4 1444.6,374.2 1446.3,373.1 1448.0,372.0 1449.7,370.8 1451.4,369.7 1453.1,368.5 1454.8,367.4 1456.5,366.3 1458.2,365.2 1459.9,364.0 1461.7,362.9 1463.4,361.8 1465.1,360.7 1466.8,359.6 1468.5,358.5 1470.2,357.4 1471.9,356.2 1473.6,355.1 1475.3,354.0 1477.0,352.9 1478.7,351.8 1480.4,350.7 1482.1,349.6 1483.8,348.6 1485.5,347.5 1487.2,346.4 1488.9,345.3 1490.6,344.2 1492.3,343.1 1494.0,342.1 1495.7,341.0 1497.4,339.9 1499.1,338.8 1500.8,337.8 1502.5,336.7 1504.2,335.7 1506.0,334.6 1507.7,333.5 1509.4,332.5 1511.1,331.4 1512.8,330.4 1514.5,329.3 1516.2,328.3 1517.9,327.2 1519.6,326.2 1521.3,325.2 1523.0,324.1 1524.7,323.1 1526.4,322.1 1528.1,321.0 1529.8,320.0 1531.5,319.0 1533.2,318.0 1534.9,317.0 1536.6,315.9 1538.3,314.9 1540.0,313.9 1541.7,312.9 1543.4,311.9 1545.1,310.9 1546.8,309.9 1548.5,308.9 1550.3,307.9 1552.0,306.9 1553.7,305.9 1555.4,304.9 1557.1,304.0 1558.8,303.0 1560.5,302.0 1562.2,301.0 1563.9,300.0 1565.6,299.1 1567.3,298.1 1569.0,297.1 1570.7,296.2 1572.4,295.2 1574.1,294.3 1575.8,293.3 1577.5,292.4 1579.2,291.4 1580.9,290.5 1582.6,289.5 1584.3,288.6 1586.0,287.6 1587.7,286.7 1589.4,285.8 1591.1,284.8 1592.8,283.9 1594.6,283.0 1596.3,282.0 1598.0,281.1 1599.7,280.2 1601.4,279.3 1603.1,278.4 1604.8,277.5 1606.5,276.5 1608.2,275.6 1609.9,274.7 1611.6,273.8 1613.3,272.9 1615.0,272.0 1616.7,271.1 1618.4,270.3 1620.1,269.4 1621.8,268.5 1623.5,267.6 1625.2,266.7 1626.9,265.8 1628.6,265.0 1630.3,264.1 1632.0,263.2 1633.7,262.3 1635.4,261.5 1637.1,260.6 1638.9,259.8 1640.6,258.9 1642.3,258.0 1644.0,257.2 1645.7,256.3 1647.4,255.5 1649.1,254.6 1650.8,253.8 1652.5,253.0 1654.2,252.1 1655.9,251.3 1657.6,250.5 1659.3,249.6 1661.0,248.8 1662.7,248.0 1664.4,247.1 1666.1,246.3 1667.8,245.5 1669.5,244.7 1671.2,243.9 1672.9,243.1 1674.6,242.3 1676.3,241.4 1678.0,240.6 1679.7,239.8 1681.4,239.0 1683.2,238.2 1684.9,237.5 1686.6,236.7 1688.3,235.9 1690.0,235.1 1691.7,234.3 1693.4,233.5 1695.1,232.7 1696.8,232.0 1698.5,231.2 1700.2,230.4 1701.9,229.6 1703.6,228.9 1705.3,228.1 1707.0,227.3 1708.7,226.6 1710.4,225.8 1712.1,225.1 1713.8,224.3 1715.5,223.6 1717.2,222.8 1718.9,222.1 1720.6,221.3 1722.3,220.6 1724.0,219.8 1725.7,219.1 1727.5,218.4 1729.2,217.6 1730.9,216.9 1732.6,216.2 1734.3,215.4 1736.0,214.7 1737.7,214.0 1739.4,213.3 1741.1,212.6 1742.8,211.8 1744.5,211.1 1746.2,210.4 1747.9,209.7 1749.6,209.0 1751.3,208.3 1753.0,207.6 1754.7,206.9 1756.4,206.2 1758.1,205.5 1759.8,204.8 1761.5,204.1 1763.2,203.4 1764.9,202.7 1766.6,202.1 1768.3,201.4 1770.0,200.7 1771.8,200.0 1773.5,199.3 1775.2,198.7 1776.9,198.0 1778.6,197.3 1780.3,196.6 1782.0,196.0 1783.7,195.3 1785.4,194.6 1787.1,194.0 1788.8,193.3 1790.5,192.7 1792.2,192.0 1793.9,191.4 1795.6,190.7 1797.3,190.1 1799.0,189.4 1800.7,188.8 1802.4,188.1 1804.1,187.5 1805.8,186.8 1807.5,186.2 1809.2,185.6 1810.9,184.9 1812.6,184.3 1814.3,183.7 1816.1,183.0 1817.8,182.4 1819.5,181.8 1821.2,181.2 1822.9,180.6 1824.6,179.9 1826.3,179.3 1828.0,178.7 1829.7,178.1 1831.4,177.5 1833.1,176.9 1834.8,176.3 1836.5,175.7 1838.2,175.1 1839.9,174.5 1841.6,173.9 1843.3,173.3 1845.0,172.7 1846.7,172.1 1848.4,171.5 1850.1,170.9 1851.8,170.3 1853.5,169.7 1855.2,169.1 1856.9,168.5 1858.6,168.0 1860.4,167.4 1862.1,166.8 1863.8,166.2 1865.5,165.6 1867.2,165.1 1868.9,164.5 1870.6,163.9 1872.3,163.4 1874.0,162.8 1875.7,162.2 1877.4,161.7 1879.1,161.1 1880.8,160.5 1882.5,160.0 1884.2,159.4 1885.9,158.9 1887.6,158.3 1889.3,157.7 1891.0,157.2 1892.7,156.6 1894.4,156.1 1896.1,155.6 1897.8,155.0 1899.5,154.5 1901.2,153.9 1902.9,153.4 1904.7,152.8 1906.4,152.3 1908.1,151.8 1909.8,151.2 1911.5,150.7 1913.2,150.2 1914.9,149.6 1916.6,149.1 1918.3,148.6 1920.0,148.1 1921.7,147.5 1923.4,147.0 1925.1,146.5 1926.8,146.0 1928.5,145.5 1930.2,144.9 1931.9,144.4 1933.6,143.9 1935.3,143.4 1937.0,142.9 1938.7,142.4 1940.4,141.9 1942.1,141.4 1943.8,140.9 1945.5,140.4 1947.2,139.9 1949.0,139.4 1950.7,138.9 1952.4,138.4 1954.1,137.9 1955.8,137.4 1957.5,136.9 1959.2,136.4 1960.9,135.9 1962.6,135.4 1964.3,134.9 1966.0,134.4 1967.7,133.9 1969.4,133.4" fill="none" stroke="#2b3d9b" stroke-width="1.8" stroke-linejoin="round"/>
<path d="M1260.50 495.97L1269.75 511.77L1251.25 511.77Z" fill="#4152a3" stroke="#2b3d9b" stroke-width="0.8" stroke-linejoin="miter"/>
<path d="M1274.68 486.58L1283.93 502.38L1265.43 502.38Z" fill="#4152a3" stroke="#2b3d9b" stroke-width="0.8" stroke-linejoin="miter"/>
<path d="M1288.86 475.63L1298.11 491.43L1279.61 491.43Z" fill="#4152a3" stroke="#2b3d9b" stroke-width="0.8" stroke-linejoin="miter"/>
<path d="M1303.03 464.26L1312.28 480.06L1293.78 480.06Z" fill="#4152a3" stroke="#2b3d9b" stroke-width="0.8" stroke-linejoin="miter"/>
<path d="M1317.21 453.31L1326.46 469.11L1307.96 469.11Z" fill="#4152a3" stroke="#2b3d9b" stroke-width="0.8" stroke-linejoin="miter"/>
<path d="M1331.39 443.09L1340.64 458.89L1322.14 458.89Z" fill="#4152a3" stroke="#2b3d9b" stroke-width="0.8" stroke-linejoin="miter"/>
<path d="M1373.92 412.01L1383.17 427.81L1364.67 427.81Z" fill="#4152a3" stroke="#2b3d9b" stroke-width="0.8" stroke-linejoin="miter"/>
<path d="M1416.46 382.18L1425.71 397.98L1407.21 397.98Z" fill="#4152a3" stroke="#2b3d9b" stroke-width="0.8" stroke-linejoin="miter"/>
<path d="M1458.99 353.49L1468.24 369.29L1449.74 369.29Z" fill="#4152a3" stroke="#2b3d9b" stroke-width="0.8" stroke-linejoin="miter"/>
<path d="M1501.53 326.17L1510.78 341.97L1492.28 341.97Z" fill="#4152a3" stroke="#2b3d9b" stroke-width="0.8" stroke-linejoin="miter"/>
<path d="M1544.06 301.13L1553.31 316.93L1534.81 316.93Z" fill="#4152a3" stroke="#2b3d9b" stroke-width="0.8" stroke-linejoin="miter"/>
<path d="M1586.59 278.40L1595.84 294.20L1577.34 294.20Z" fill="#4152a3" stroke="#2b3d9b" stroke-width="0.8" stroke-linejoin="miter"/>
<path d="M1629.13 254.72L1638.38 270.52L1619.88 270.52Z" fill="#4152a3" stroke="#2b3d9b" stroke-width="0.8" stroke-linejoin="miter"/>
<path d="M1671.66 234.17L1680.91 249.97L1662.41 249.97Z" fill="#4152a3" stroke="#2b3d9b" stroke-width="0.8" stroke-linejoin="miter"/>
<path d="M1714.20 215.71L1723.45 231.51L1704.95 231.51Z" fill="#4152a3" stroke="#2b3d9b" stroke-width="0.8" stroke-linejoin="miter"/>
<path d="M1756.73 197.56L1765.98 213.36L1747.48 213.36Z" fill="#4152a3" stroke="#2b3d9b" stroke-width="0.8" stroke-linejoin="miter"/>
<path d="M1799.26 180.46L1808.51 196.26L1790.01 196.26Z" fill="#4152a3" stroke="#2b3d9b" stroke-width="0.8" stroke-linejoin="miter"/>
<path d="M1841.80 165.34L1851.05 181.14L1832.55 181.14Z" fill="#4152a3" stroke="#2b3d9b" stroke-width="0.8" stroke-linejoin="miter"/>
<path d="M1884.33 151.46L1893.58 167.26L1875.08 167.26Z" fill="#4152a3" stroke="#2b3d9b" stroke-width="0.8" stroke-linejoin="miter"/>
<path d="M1926.87 139.78L1936.12 155.58L1917.62 155.58Z" fill="#4152a3" stroke="#2b3d9b" stroke-width="0.8" stroke-linejoin="miter"/>
<path d="M1969.40 128.31L1978.65 144.11L1960.15 144.11Z" fill="#4152a3" stroke="#2b3d9b" stroke-width="0.8" stroke-linejoin="miter"/>
<polyline points="1260.5,506.5 1261.2,505.8 1261.9,505.0 1262.6,504.3 1263.3,503.6 1264.0,502.8 1264.8,502.1 1265.5,501.4 1266.2,500.7 1266.9,499.9 1267.6,499.2 1268.3,498.5 1269.0,497.7 1269.7,497.0 1270.4,496.3 1271.1,495.5 1271.8,494.8 1272.6,494.1 1273.3,493.3 1274.0,492.6 1274.7,491.9 1275.4,491.2 1276.1,490.4 1276.8,489.7 1277.5,489.0 1278.2,488.2 1278.9,487.5 1279.6,486.8 1280.3,486.0 1281.1,485.3 1281.8,484.6 1282.5,483.9 1283.2,483.1 1283.9,482.4 1284.6,481.7 1285.3,480.9 1286.0,480.2 1286.7,479.5 1287.4,478.8 1288.1,478.0 1288.9,477.3 1289.6,476.6 1291.3,474.8 1293.0,473.1 1294.7,471.3 1296.4,469.6 1298.1,467.9 1299.8,466.1 1301.5,464.4 1303.2,462.7 1304.9,460.9 1306.6,459.2 1308.3,457.5 1310.0,455.7 1311.7,454.0 1313.4,452.3 1315.1,450.5 1316.8,448.8 1318.5,447.1 1320.2,445.4 1321.9,443.7 1323.6,442.0 1325.3,440.3 1327.0,438.6 1328.8,436.9 1330.5,435.1 1332.2,433.5 1333.9,431.8 1335.6,430.1 1337.3,428.4 1339.0,426.7 1340.7,425.0 1342.4,423.3 1344.1,421.6 1345.8,420.0 1347.5,418.3 1349.2,416.6 1350.9,415.0 1352.6,413.3 1354.3,411.6 1356.0,410.0 1357.7,408.3 1359.4,406.7 1361.1,405.0 1362.8,403.4 1364.5,401.8 1366.2,400.1 1367.9,398.5 1369.6,396.9 1371.3,395.3 1373.1,393.6 1374.8,392.0 1376.5,390.4 1378.2,388.8 1379.9,387.2 1381.6,385.6 1383.3,384.0 1385.0,382.4 1386.7,380.9 1388.4,379.3 1390.1,377.7 1391.8,376.1 1393.5,374.6 1395.2,373.0 1396.9,371.4 1398.6,369.9 1400.3,368.3 1402.0,366.8 1403.7,365.3 1405.4,363.7 1407.1,362.2 1408.8,360.7 1410.5,359.2 1412.2,357.6 1413.9,356.1 1415.6,354.6 1417.4,353.1 1419.1,351.6 1420.8,350.1 1422.5,348.7 1424.2,347.2 1425.9,345.7 1427.6,344.2 1429.3,342.8 1431.0,341.3 1432.7,339.9 1434.4,338.4 1436.1,337.0 1437.8,335.5 1439.5,334.1 1441.2,332.7 1442.9,331.2 1444.6,329.8 1446.3,328.4 1448.0,327.0 1449.7,325.6 1451.4,324.2 1453.1,322.8 1454.8,321.4 1456.5,320.0 1458.2,318.7 1459.9,317.3 1461.7,315.9 1463.4,314.6 1465.1,313.2 1466.8,311.9 1468.5,310.5 1470.2,309.2 1471.9,307.8 1473.6,306.5 1475.3,305.2 1477.0,303.9 1478.7,302.6 1480.4,301.3 1482.1,300.0 1483.8,298.7 1485.5,297.4 1487.2,296.1 1488.9,294.8 1490.6,293.5 1492.3,292.3 1494.0,291.0 1495.7,289.7 1497.4,288.5 1499.1,287.3 1500.8,286.0 1502.5,284.8 1504.2,283.5 1506.0,282.3 1507.7,281.1 1509.4,279.9 1511.1,278.7 1512.8,277.5 1514.5,276.3 1516.2,275.1 1517.9,273.9 1519.6,272.7 1521.3,271.6 1523.0,270.4 1524.7,269.2 1526.4,268.1 1528.1,266.9 1529.8,265.8 1531.5,264.6 1533.2,263.5 1534.9,262.3 1536.6,261.2 1538.3,260.1 1540.0,259.0 1541.7,257.9 1543.4,256.8 1545.1,255.7 1546.8,254.6 1548.5,253.5 1550.3,252.4 1552.0,251.3 1553.7,250.2 1555.4,249.2 1557.1,248.1 1558.8,247.0 1560.5,246.0 1562.2,244.9 1563.9,243.9 1565.6,242.9 1567.3,241.8 1569.0,240.8 1570.7,239.8 1572.4,238.8 1574.1,237.7 1575.8,236.7 1577.5,235.7 1579.2,234.7 1580.9,233.7 1582.6,232.7 1584.3,231.8 1586.0,230.8 1587.7,229.8 1589.4,228.8 1591.1,227.9 1592.8,226.9 1594.6,226.0 1596.3,225.0 1598.0,224.1 1599.7,223.1 1601.4,222.2 1603.1,221.3 1604.8,220.3 1606.5,219.4 1608.2,218.5 1609.9,217.6 1611.6,216.7 1613.3,215.8 1615.0,214.9 1616.7,214.0 1618.4,213.1 1620.1,212.2 1621.8,211.3 1623.5,210.4 1625.2,209.6 1626.9,208.7 1628.6,207.8 1630.3,207.0 1632.0,206.1 1633.7,205.3 1635.4,204.4 1637.1,203.6 1638.9,202.7 1640.6,201.9 1642.3,201.1 1644.0,200.3 1645.7,199.4 1647.4,198.6 1649.1,197.8 1650.8,197.0 1652.5,196.2 1654.2,195.4 1655.9,194.6 1657.6,193.8 1659.3,193.0 1661.0,192.2 1662.7,191.5 1664.4,190.7 1666.1,189.9 1667.8,189.1 1669.5,188.4 1671.2,187.6 1672.9,186.9 1674.6,186.1 1676.3,185.4 1678.0,184.6 1679.7,183.9 1681.4,183.1 1683.2,182.4 1684.9,181.7 1686.6,180.9 1688.3,180.2 1690.0,179.5 1691.7,178.8 1693.4,178.1 1695.1,177.4 1696.8,176.7 1698.5,176.0 1700.2,175.3 1701.9,174.6 1703.6,173.9 1705.3,173.2 1707.0,172.5 1708.7,171.8 1710.4,171.1 1712.1,170.5 1713.8,169.8 1715.5,169.1 1717.2,168.5 1718.9,167.8 1720.6,167.2 1722.3,166.5 1724.0,165.9 1725.7,165.2 1727.5,164.6 1729.2,163.9 1730.9,163.3 1732.6,162.6 1734.3,162.0 1736.0,161.4 1737.7,160.8 1739.4,160.1 1741.1,159.5 1742.8,158.9 1744.5,158.3 1746.2,157.7 1747.9,157.1 1749.6,156.5 1751.3,155.9 1753.0,155.3 1754.7,154.7 1756.4,154.1 1758.1,153.5 1759.8,152.9 1761.5,152.3 1763.2,151.7 1764.9,151.2 1766.6,150.6 1768.3,150.0 1770.0,149.4 1771.8,148.9 1773.5,148.3 1775.2,147.7 1776.9,147.2 1778.6,146.6 1780.3,146.1 1782.0,145.5 1783.7,145.0 1785.4,144.4 1787.1,143.9 1788.8,143.3 1790.5,142.8 1792.2,142.3 1793.9,141.7 1795.6,141.2 1797.3,140.7 1799.0,140.1 1800.7,139.6 1802.4,139.1 1804.1,138.6 1805.8,138.1 1807.5,137.5 1809.2,137.0 1810.9,136.5 1812.6,136.0 1814.3,135.5 1816.1,135.0 1817.8,134.5 1819.5,134.0 1821.2,133.5 1822.9,133.0 1824.6,132.5 1826.3,132.0 1828.0,131.5 1829.7,131.1 1831.4,130.6 1833.1,130.1 1834.8,129.6 1836.5,129.1 1838.2,128.7 1839.9,128.2 1841.6,127.7 1843.3,127.3 1845.0,126.8 1846.7,126.3 1848.4,125.9 1850.1,125.4 1851.8,124.9 1853.5,124.5 1855.2,124.0 1856.9,123.6 1858.6,123.1 1860.4,122.7 1862.1,122.2 1863.8,121.8 1865.5,121.3 1867.2,120.9 1868.9,120.5 1870.6,120.0 1872.3,119.6 1874.0,119.2 1875.7,118.7 1877.4,118.3 1879.1,117.9 1880.8,117.5 1882.5,117.0 1884.2,116.6 1885.9,116.2 1887.6,115.8 1889.3,115.3 1891.0,114.9 1892.7,114.5 1894.4,114.1 1896.1,113.7 1897.8,113.3 1899.5,112.9 1901.2,112.5 1902.9,112.1 1904.7,111.7 1906.4,111.3 1908.1,110.9 1909.8,110.5 1911.5,110.1 1913.2,109.7 1914.9,109.3 1916.6,108.9 1918.3,108.5 1920.0,108.1 1921.7,107.7 1923.4,107.4 1925.1,107.0 1926.8,106.6 1928.5,106.2 1930.2,105.8 1931.9,105.5 1933.6,105.1 1935.3,104.7 1937.0,104.3 1938.7,104.0 1940.4,103.6 1942.1,103.2 1943.8,102.9 1945.5,102.5 1947.2,102.1 1949.0,101.8 1950.7,101.4 1952.4,101.0 1954.1,100.7 1955.8,100.3 1957.5,100.0 1959.2,99.6 1960.9,99.3 1962.6,98.9 1964.3,98.6 1966.0,98.2 1967.7,97.9 1969.4,97.5" fill="none" stroke="#ec1c24" stroke-width="1.8" stroke-linejoin="round"/>
<polyline points="1260.5,506.5 1261.2,505.2 1261.9,504.0 1262.6,502.7 1263.3,501.5 1264.0,500.2 1264.8,499.0 1265.5,497.7 1266.2,496.5 1266.9,495.2 1267.6,493.9 1268.3,492.7 1269.0,491.4 1269.7,490.2 1270.4,488.9 1271.1,487.7 1271.8,486.4 1272.6,485.2 1273.3,483.9 1274.0,482.7 1274.7,481.4 1275.4,480.2 1276.1,478.9 1276.8,477.7 1277.5,476.4 1278.2,475.2 1278.9,473.9 1279.6,472.7 1280.3,471.4 1281.1,470.2 1281.8,469.0 1282.5,467.7 1283.2,466.5 1283.9,465.2 1284.6,464.0 1285.3,462.8 1286.0,461.5 1286.7,460.3 1287.4,459.0 1288.1,457.8 1288.9,456.6 1289.6,455.3 1291.3,452.4 1293.0,449.4 1294.7,446.5 1296.4,443.6 1298.1,440.6 1299.8,437.7 1301.5,434.8 1303.2,431.9 1304.9,429.0 1306.6,426.1 1308.3,423.3 1310.0,420.4 1311.7,417.6 1313.4,414.7 1315.1,411.9 1316.8,409.1 1318.5,406.3 1320.2,403.5 1321.9,400.7 1323.6,398.0 1325.3,395.2 1327.0,392.5 1328.8,389.8 1330.5,387.0 1332.2,384.3 1333.9,381.7 1335.6,379.0 1337.3,376.4 1339.0,373.7 1340.7,371.1 1342.4,368.5 1344.1,365.9 1345.8,363.3 1347.5,360.8 1349.2,358.2 1350.9,355.7 1352.6,353.2 1354.3,350.7 1356.0,348.2 1357.7,345.7 1359.4,343.3 1361.1,340.9 1362.8,338.5 1364.5,336.1 1366.2,333.7 1367.9,331.3 1369.6,329.0 1371.3,326.7 1373.1,324.4 1374.8,322.1 1376.5,319.8 1378.2,317.5 1379.9,315.3 1381.6,313.1 1383.3,310.9 1385.0,308.7 1386.7,306.5 1388.4,304.4 1390.1,302.2 1391.8,300.1 1393.5,298.0 1395.2,295.9 1396.9,293.9 1398.6,291.8 1400.3,289.8 1402.0,287.8 1403.7,285.8 1405.4,283.8 1407.1,281.9 1408.8,279.9 1410.5,278.0 1412.2,276.1 1413.9,274.2 1415.6,272.3 1417.4,270.5 1419.1,268.6 1420.8,266.8 1422.5,265.0 1424.2,263.2 1425.9,261.5 1427.6,259.7 1429.3,258.0 1431.0,256.2 1432.7,254.5 1434.4,252.8 1436.1,251.2 1437.8,249.5 1439.5,247.9 1441.2,246.2 1442.9,244.6 1444.6,243.0 1446.3,241.4 1448.0,239.9 1449.7,238.3 1451.4,236.8 1453.1,235.3 1454.8,233.7 1456.5,232.3 1458.2,230.8 1459.9,229.3 1461.7,227.9 1463.4,226.4 1465.1,225.0 1466.8,223.6 1468.5,222.2 1470.2,220.8 1471.9,219.4 1473.6,218.1 1475.3,216.7 1477.0,215.4 1478.7,214.1 1480.4,212.8 1482.1,211.5 1483.8,210.2 1485.5,209.0 1487.2,207.7 1488.9,206.5 1490.6,205.2 1492.3,204.0 1494.0,202.8 1495.7,201.6 1497.4,200.5 1499.1,199.3 1500.8,198.1 1502.5,197.0 1504.2,195.8 1506.0,194.7 1507.7,193.6 1509.4,192.5 1511.1,191.4 1512.8,190.3 1514.5,189.3 1516.2,188.2 1517.9,187.1 1519.6,186.1 1521.3,185.1 1523.0,184.1 1524.7,183.0 1526.4,182.0 1528.1,181.0 1529.8,180.1 1531.5,179.1 1533.2,178.1 1534.9,177.2 1536.6,176.2 1538.3,175.3 1540.0,174.4 1541.7,173.4 1543.4,172.5 1545.1,171.6 1546.8,170.7 1548.5,169.9 1550.3,169.0 1552.0,168.1 1553.7,167.2 1555.4,166.4 1557.1,165.5 1558.8,164.7 1560.5,163.9 1562.2,163.1 1563.9,162.2 1565.6,161.4 1567.3,160.6 1569.0,159.8 1570.7,159.0 1572.4,158.3 1574.1,157.5 1575.8,156.7 1577.5,156.0 1579.2,155.2 1580.9,154.5 1582.6,153.7 1584.3,153.0 1586.0,152.3 1587.7,151.6 1589.4,150.8 1591.1,150.1 1592.8,149.4 1594.6,148.7 1596.3,148.1 1598.0,147.4 1599.7,146.7 1601.4,146.0 1603.1,145.4 1604.8,144.7 1606.5,144.0 1608.2,143.4 1609.9,142.7 1611.6,142.1 1613.3,141.5 1615.0,140.8 1616.7,140.2 1618.4,139.6 1620.1,139.0 1621.8,138.4 1623.5,137.8 1625.2,137.2 1626.9,136.6 1628.6,136.0 1630.3,135.4 1632.0,134.8 1633.7,134.3 1635.4,133.7 1637.1,133.1 1638.9,132.6 1640.6,132.0 1642.3,131.5 1644.0,130.9 1645.7,130.4 1647.4,129.8 1649.1,129.3 1650.8,128.8 1652.5,128.2 1654.2,127.7 1655.9,127.2 1657.6,126.7 1659.3,126.2 1661.0,125.7 1662.7,125.1 1664.4,124.6 1666.1,124.2 1667.8,123.7 1669.5,123.2 1671.2,122.7 1672.9,122.2 1674.6,121.7 1676.3,121.2 1678.0,120.8 1679.7,120.3 1681.4,119.8 1683.2,119.4 1684.9,118.9 1686.6,118.5 1688.3,118.0 1690.0,117.6 1691.7,117.1 1693.4,116.7 1695.1,116.2 1696.8,115.8 1698.5,115.4 1700.2,114.9 1701.9,114.5 1703.6,114.1 1705.3,113.6 1707.0,113.2 1708.7,112.8 1710.4,112.4 1712.1,112.0 1713.8,111.6 1715.5,111.2 1717.2,110.8 1718.9,110.4 1720.6,110.0 1722.3,109.6 1724.0,109.2 1725.7,108.8 1727.5,108.4 1729.2,108.0 1730.9,107.6 1732.6,107.3 1734.3,106.9 1736.0,106.5 1737.7,106.1 1739.4,105.8 1741.1,105.4 1742.8,105.0 1744.5,104.7 1746.2,104.3 1747.9,103.9 1749.6,103.6 1751.3,103.2 1753.0,102.9 1754.7,102.5 1756.4,102.2 1758.1,101.8 1759.8,101.5 1761.5,101.1 1763.2,100.8 1764.9,100.4 1766.6,100.1 1768.3,99.8 1770.0,99.4 1771.8,99.1 1773.5,98.8 1775.2,98.4 1776.9,98.1 1778.6,97.8 1780.3,97.5 1782.0,97.2 1783.7,96.8 1785.4,96.5 1787.1,96.2 1788.8,95.9 1790.5,95.6 1792.2,95.3 1793.9,95.0 1795.6,94.7 1797.3,94.3 1799.0,94.0 1800.7,93.7 1802.4,93.4 1804.1,93.1 1805.8,92.8 1807.5,92.6 1809.2,92.3 1810.9,92.0 1812.6,91.7 1814.3,91.4 1816.1,91.1 1817.8,90.8 1819.5,90.5 1821.2,90.2 1822.9,90.0 1824.6,89.7 1826.3,89.4 1828.0,89.1 1829.7,88.8 1831.4,88.6 1833.1,88.3 1834.8,88.0 1836.5,87.8 1838.2,87.5 1839.9,87.2 1841.6,87.0 1843.3,86.7 1845.0,86.4 1846.7,86.2 1848.4,85.9 1850.1,85.6 1851.8,85.4 1853.5,85.1 1855.2,84.9 1856.9,84.6 1858.6,84.4 1860.4,84.1 1862.1,83.8 1863.8,83.6 1865.5,83.3 1867.2,83.1 1868.9,82.9 1870.6,82.6 1872.3,82.4 1874.0,82.1 1875.7,81.9 1877.4,81.6 1879.1,81.4 1880.8,81.2 1882.5,80.9 1884.2,80.7 1885.9,80.4 1887.6,80.2 1889.3,80.0 1891.0,79.7 1892.7,79.5 1894.4,79.3 1896.1,79.0 1897.8,78.8 1899.5,78.6 1901.2,78.4 1902.9,78.1 1904.7,77.9 1906.4,77.7 1908.1,77.5 1909.8,77.2 1911.5,77.0 1913.2,76.8 1914.9,76.6 1916.6,76.4 1918.3,76.1 1920.0,75.9 1921.7,75.7 1923.4,75.5 1925.1,75.3 1926.8,75.1 1928.5,74.8 1930.2,74.6 1931.9,74.4 1933.6,74.2 1935.3,74.0 1937.0,73.8 1938.7,73.6 1940.4,73.4 1942.1,73.2 1943.8,73.0 1945.5,72.8 1947.2,72.6 1949.0,72.4 1950.7,72.2 1952.4,72.0 1954.1,71.8 1955.8,71.6 1957.5,71.4 1959.2,71.2 1960.9,71.0 1962.6,70.8 1964.3,70.6 1966.0,70.4 1967.7,70.2 1969.4,70.0" fill="none" stroke="#0b0b10" stroke-width="1.9" stroke-linejoin="round"/>
<rect x="772.00" y="351.00" width="14.0" height="14.0" fill="#0b0b10"/>
<circle cx="778.80" cy="419.70" r="7.6" fill="#ec1c24"/>
<path d="M778.60 470.87L787.85 486.67L769.35 486.67Z" fill="#4152a3" stroke="#2b3d9b" stroke-width="0.8" stroke-linejoin="miter"/>
<rect x="1848.50" y="290.70" width="14.0" height="14.0" fill="#0b0b10"/>
<circle cx="1855.90" cy="359.60" r="7.6" fill="#ec1c24"/>
<path d="M1855.60 411.67L1864.85 427.47L1846.35 427.47Z" fill="#4152a3" stroke="#2b3d9b" stroke-width="0.8" stroke-linejoin="miter"/>
<text x="175.35" y="660.3" font-size="46" font-family="Liberation Serif, serif" fill="#000">0</text>
<text transform="translate(293.08,660.3) scale(0.919,1)" font-size="46" font-family="Liberation Serif, serif" fill="#000">4</text>
<text transform="translate(403.18,660.3) scale(0.911,1)" font-size="46" font-family="Liberation Serif, serif" fill="#000">8</text>
<text transform="translate(507.62,660.3) scale(0.769,1)" font-size="46" font-family="Liberation Serif, serif" fill="#000">1</text>
<text x="523.75" y="660.3" font-size="46" font-family="Liberation Serif, serif" fill="#000">2</text>
<text transform="translate(622.50,660.3) scale(0.775,1)" font-size="46" font-family="Liberation Serif, serif" fill="#000">1</text>
<text transform="translate(640.40,660.3) scale(0.850,1)" font-size="46" font-family="Liberation Serif, serif" fill="#000">6</text>
<text x="730.55" y="660.3" font-size="46" font-family="Liberation Serif, serif" fill="#000">2</text>
<text x="750.50" y="660.3" font-size="46" font-family="Liberation Serif, serif" fill="#000">0</text>
<text transform="translate(843.13,660.3) scale(0.933,1)" font-size="46" font-family="Liberation Serif, serif" fill="#000">2</text>
<text transform="translate(864.09,660.3) scale(0.910,1)" font-size="46" font-family="Liberation Serif, serif" fill="#000">4</text>
<text transform="translate(954.13,660.3) scale(0.933,1)" font-size="46" font-family="Liberation Serif, serif" fill="#000">2</text>
<text transform="translate(976.15,660.3) scale(0.826,1)" font-size="46" font-family="Liberation Serif, serif" fill="#000">8</text>
<text x="1247.25" y="660.3" font-size="46" font-family="Liberation Serif, serif" fill="#000">0</text>
<text transform="translate(1383.50,660.3) scale(0.775,1)" font-size="46" font-family="Liberation Serif, serif" fill="#000">1</text>
<text transform="translate(1400.11,660.3) scale(0.947,1)" font-size="46" font-family="Liberation Serif, serif" fill="#000">0</text>
<text x="1521.10" y="660.3" font-size="46" font-family="Liberation Serif, serif" fill="#000">2</text>
<text x="1541.15" y="660.3" font-size="46" font-family="Liberation Serif, serif" fill="#000">0</text>
<text transform="translate(1667.03,660.3) scale(0.837,1)" font-size="46" font-family="Liberation Serif, serif" fill="#000">3</text>
<text x="1685.40" y="660.3" font-size="46" font-family="Liberation Serif, serif" fill="#000">0</text>
<text transform="translate(1809.10,660.3) scale(0.895,1)" font-size="46" font-family="Liberation Serif, serif" fill="#000">4</text>
<text transform="translate(1827.77,660.3) scale(0.963,1)" font-size="46" font-family="Liberation Serif, serif" fill="#000">0</text>
<text transform="translate(1945.78,660.3) scale(0.939,1)" font-size="46" font-family="Liberation Serif, serif" fill="#000">5</text>
<text x="1966.20" y="660.3" font-size="46" font-family="Liberation Serif, serif" fill="#000">0</text>
<text transform="translate(93.10,105) scale(0.900,1)" font-size="46" font-family="Liberation Serif, serif" fill="#000">4</text>
<text x="92.65" y="314" font-size="46" font-family="Liberation Serif, serif" fill="#000">2</text>
<text transform="translate(92.09,521.5) scale(0.953,1)" font-size="46" font-family="Liberation Serif, serif" fill="#000">0</text>
<text transform="translate(1152.00,105) scale(0.895,1)" font-size="46" font-family="Liberation Serif, serif" fill="#000">4</text>
<text x="1151.50" y="314" font-size="46" font-family="Liberation Serif, serif" fill="#000">2</text>
<text transform="translate(1151.01,521.5) scale(0.947,1)" font-size="46" font-family="Liberation Serif, serif" fill="#000">0</text>
<text x="854.60 876.70" y="372" font-size="44.5" font-family="Liberation Serif, serif" fill="#000">2K</text>
<text x="855.00 876.70" y="434.2" font-size="44.5" font-family="Liberation Serif, serif" fill="#000">4K</text>
<text x="854.60 876.70" y="495.2" font-size="44.5" font-family="Liberation Serif, serif" fill="#000">6K</text>
<text x="1927.90 1950.00" y="313.8" font-size="44.5" font-family="Liberation Serif, serif" fill="#000">2K</text>
<text x="1928.10 1950.00" y="376" font-size="44.5" font-family="Liberation Serif, serif" fill="#000">4K</text>
<text x="1928.00 1950.00" y="437.5" font-size="44.5" font-family="Liberation Serif, serif" fill="#000">6K</text>
<text font-family="Liberation Serif, serif" fill="#000"><tspan x="446.00" y="723" font-size="44.5" font-style="italic">H</tspan><tspan x="478.40" y="730.8" font-size="56">/</tspan><tspan x="495.80" y="723" font-size="44.5">T</tspan><tspan x="520.60" y="723" font-size="44.5">,</tspan><tspan x="542.00" y="723" font-size="44.5">к</tspan><tspan x="565.10" y="723" font-size="44.5">Э</tspan><tspan x="594.50" y="730.8" font-size="56">/</tspan><tspan x="612.50" y="723" font-size="44.5">K</tspan></text>
<text font-family="Liberation Serif, serif" fill="#000"><tspan x="1505.00" y="723" font-size="44.5" font-style="italic">H</tspan><tspan x="1538.80" y="723" font-size="44.5">,</tspan><tspan x="1559.20" y="723" font-size="44.5">к</tspan><tspan x="1581.90" y="723" font-size="44.5">Э</tspan></text>
<g transform="translate(53,352.7) rotate(-90)"><text font-family="Liberation Serif, serif" fill="#000"><tspan x="0.20" y="0" font-size="44.5" font-style="italic">M</tspan><tspan x="35.00" y="0" font-size="44.5">,</tspan><tspan x="52.20" y="0" font-size="44.5">μ</tspan></text><text transform="translate(76.2,0) scale(0.88,1)" x="-1.00" y="0" font-size="44.5" font-family="Liberation Serif, serif" fill="#000">B</text></g>
<g transform="translate(1105,307.5) rotate(-90)"><text font-family="Liberation Serif, serif" fill="#000"><tspan x="0.20" y="0" font-size="44.5" font-style="italic">M</tspan><tspan x="35.00" y="0" font-size="44.5">,</tspan><tspan x="52.20" y="0" font-size="44.5">μ</tspan></text><text transform="translate(76.2,0) scale(0.88,1)" x="-1.00" y="0" font-size="44.5" font-family="Liberation Serif, serif" fill="#000">B</text></g>
</svg></body></html>
